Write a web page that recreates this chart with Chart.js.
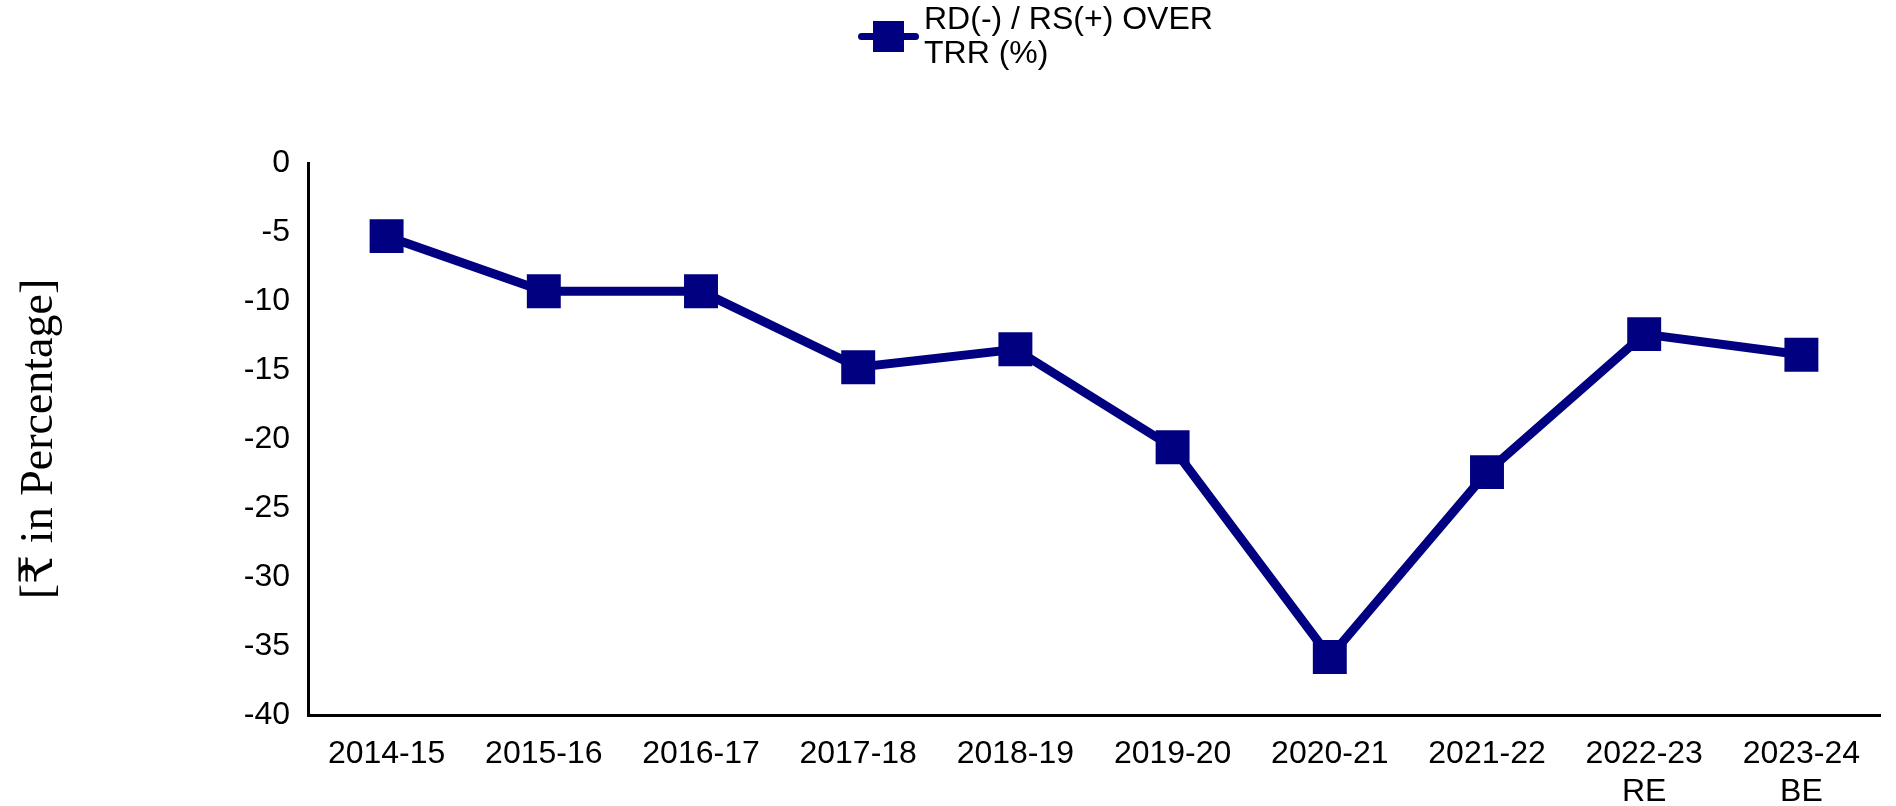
<!DOCTYPE html>
<html>
<head>
<meta charset="utf-8">
<script src="https://cdn.jsdelivr.net/npm/chart.js@4/dist/chart.umd.min.js"></script>
<style>
  html, body { margin: 0; padding: 0; background: #fff; }
  #wrap { position: relative; width: 1896px; height: 806px; }
  #legend { position: absolute; left: 858px; top: 1px; display: flex; align-items: flex-start;
            font-family: "Liberation Sans", Arial, sans-serif; font-size: 32px; line-height: 34px; color: #000; }
  #legend .mark { position: relative; width: 61px; height: 70px; margin-right: 5px; }
  #legend .mark .ln { position: absolute; left: 0; top: 32px; width: 61px; height: 7px; background: #000080; border-radius: 4px; }
  #legend .mark .sq { position: absolute; left: 15px; top: 20px; width: 31px; height: 31px; background: #000080; }
</style>
</head>
<body>
<div id="wrap">
  <canvas id="myChart" width="1896" height="806"></canvas>
  <div id="legend">
    <div class="mark"><div class="ln"></div><div class="sq"></div></div>
    <div>RD(-) / RS(+) OVER<br>TRR (%)</div>
  </div>
</div>
<script>
const years = ['2014-15', '2015-16', '2016-17', '2017-18', '2018-19', '2019-20', '2020-21', '2021-22', ['2022-23', 'RE'], ['2023-24', 'BE']];
const rdOverTrr = [-5.3, -9.3, -9.3, -14.8, -13.5, -20.6, -35.8, -22.4, -12.4, -13.9];
const yTicks = { min: -40, max: 0, step: 5 };
const seriesName = 'RD(-) / RS(+) OVER TRR (%)';
const navy = '#000080';

const ctx = document.getElementById('myChart');

new Chart(ctx, {
  type: 'line',
  data: {
    labels: years,
    datasets: [{
      label: seriesName,
      data: rdOverTrr,
      borderColor: navy,
      backgroundColor: navy,
      borderWidth: 9,
      pointStyle: 'rect',
      pointRadius: 24,
      pointHoverRadius: 24,
      pointBorderWidth: 0,
      tension: 0
    }]
  },
  options: {
    responsive: false,
    animation: false,
    layout: { autoPadding: false, padding: { top: 163, right: 16, left: 0, bottom: 0 } },
    plugins: {
      legend: { display: false },
      tooltip: { enabled: false }
    },
    scales: {
      x: {
        offset: true,
        grid: { display: false, drawTicks: false },
        border: { display: true, color: '#000', width: 3 },
        ticks: {
          color: '#000',
          padding: 20,
          maxRotation: 0,
          autoSkip: false,
          font: { family: '"Liberation Sans", Arial, sans-serif', size: 32, lineHeight: 1.2 }
        },
        afterFit: (scale) => {
          scale.height = 91;
          scale.paddingLeft = 0;
          scale.paddingRight = 0;
        }
      },
      y: {
        min: yTicks.min,
        max: yTicks.max,
        grid: { display: false, drawTicks: false },
        border: { display: true, color: '#000', width: 3 },
        ticks: {
          stepSize: yTicks.step,
          color: '#000',
          padding: 18,
          font: { family: '"Liberation Sans", Arial, sans-serif', size: 32 }
        },
        title: {
          display: true,
          text: '[₹ in Percentage]',
          color: '#000',
          padding: { top: 12, bottom: 0 },
          font: { family: '"Liberation Serif", "Times New Roman", "DejaVu Serif", serif', size: 46, weight: 'normal', lineHeight: 1.2 }
        },
        afterFit: (scale) => { scale.width = 308; }
      }
    }
  }
});
</script>
</body>
</html>
